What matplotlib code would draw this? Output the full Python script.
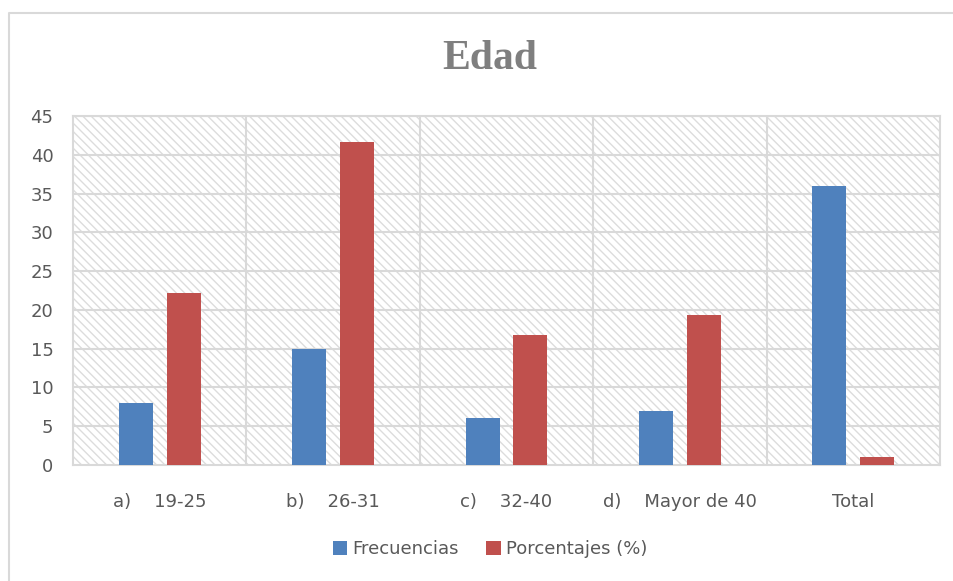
import matplotlib
matplotlib.use("Agg")
import matplotlib.pyplot as plt
import matplotlib.patches as mpatches
import matplotlib.lines as mlines
import numpy as np

categories = ["a)    19-25", "b)    26-31", "c)    32-40", "d)    Mayor de 40", "Total"]
frecuencias = [8, 15, 6, 7, 36]
porcentajes = [22.2, 41.7, 16.7, 19.4, 1]
yticks = [0, 5, 10, 15, 20, 25, 30, 35, 40, 45]

BLUE = "#4f81bd"
RED = "#c0504d"
GRID = "#d9d9d9"
TEXT = "#595959"

plt.rcParams["font.family"] = ["Liberation Sans Narrow", "DejaVu Sans"]
plt.rcParams["hatch.color"] = "#dcdcdc"
plt.rcParams["hatch.linewidth"] = 1.0

fig = plt.figure(figsize=(9.54, 5.81), dpi=100)
ax = fig.add_axes([73 / 954, 1 - 465 / 581, (940 - 73) / 954, (465 - 116) / 581])

x = np.arange(len(categories))
w = 0.196
off = 0.138

# hatched background
ax.add_patch(mpatches.Rectangle((-0.5, 0), len(categories), 45, facecolor="white",
                                edgecolor="#dcdcdc", hatch="\\\\\\\\", lw=0, zorder=0))

for yv in yticks[1:]:
    ax.axhline(yv, color=GRID, lw=1.5, zorder=1)
for xv in np.arange(0.5, len(categories) - 0.5, 1):
    ax.axvline(xv, color=GRID, lw=1.5, zorder=1)

ax.bar(x - off, frecuencias, w, color=BLUE, label="Frecuencias", zorder=3)
ax.bar(x + off, porcentajes, w, color=RED, label="Porcentajes (%)", zorder=3)

ax.set_xlim(-0.5, len(categories) - 0.5)
ax.set_ylim(0, 45)
ax.set_yticks(yticks)
ax.set_xticks(x)
ax.set_xticklabels(categories)
ax.tick_params(axis="both", length=0, colors=TEXT, labelsize=13)
ax.tick_params(axis="x", pad=20)
ax.tick_params(axis="y", pad=14)
for spine in ax.spines.values():
    spine.set_color(GRID)
    spine.set_linewidth(1.5)

fig.text(490 / 954, 1 - 59 / 581, "Edad", ha="center", va="center", fontsize=30,
         fontweight="bold", color="#7f7f7f", family=["Liberation Serif", "DejaVu Serif"])

fig.legend(loc="center", bbox_to_anchor=(490 / 954, 1 - 549 / 581), ncol=2, frameon=False,
           fontsize=13, labelcolor=TEXT, handlelength=0.8, handleheight=0.8,
           handletextpad=0.3, columnspacing=1.5)

# chart frame (left and top edges visible)
fig.add_artist(mlines.Line2D([9.5 / 954, 9.5 / 954, 1.0], [0.0, 1 - 12.5 / 581, 1 - 12.5 / 581],
                             transform=fig.transFigure, color=GRID, lw=1.5))

fig.savefig("out.png", dpi=100)
